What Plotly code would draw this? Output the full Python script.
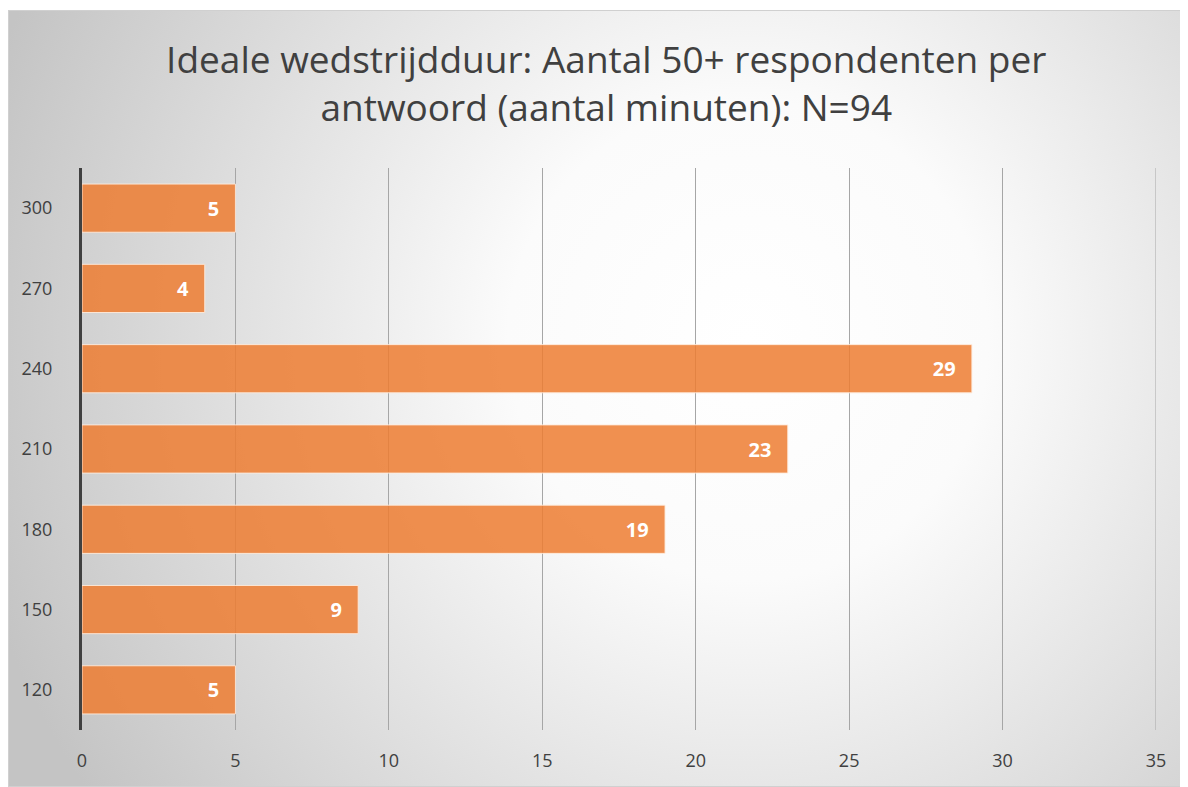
import base64
import plotly.graph_objects as go

# --- Daten ---
minuten = ["120", "150", "180", "210", "240", "270", "300"]
aantal = [5, 9, 19, 23, 29, 4, 5]
x_ticks = [0, 5, 10, 15, 20, 25, 30, 35]

TITLE = "Ideale wedstrijdduur: Aantal 50+ respondenten per<br>antwoord (aantal minuten): N=94"
FONT = "'Open Sans', Lato, sans-serif"

# Seite hat 8px Rand, daher Figur etwas kleiner
W, H = 1180, 779
ML, MR, MT, MB = 74, 32, 160, 57
PW, PH = W - ML - MR, H - MT - MB

# Hintergrund: radialer Verlauf wie in Excel, als SVG-Bild
BOX = (0, 2, 1180, 777)  # x, y, breite, höhe in Pixel
svg = f"""<svg xmlns='http://www.w3.org/2000/svg' width='{BOX[2]}' height='{BOX[3]}' viewBox='0 0 {BOX[2]} {BOX[3]}' preserveAspectRatio='none'>
<defs><radialGradient id='g' gradientUnits='userSpaceOnUse' cx='740' cy='330' r='800'>
<stop offset='0' stop-color='#ffffff'/><stop offset='0.3' stop-color='#fbfbfb'/>
<stop offset='1' stop-color='#c4c4c4'/></radialGradient></defs>
<rect x='0' y='0' width='{BOX[2]}' height='{BOX[3]}' fill='url(#g)' stroke='#d0d0d0' stroke-width='2'/>
</svg>"""
svg_uri = "data:image/svg+xml;base64," + base64.b64encode(svg.encode()).decode()

fig = go.Figure()
fig.add_trace(go.Bar(
    y=minuten, x=aantal, orientation="h",
    marker=dict(color="rgba(237,125,49,0.85)",
                line=dict(color="rgba(255,235,220,0.9)", width=1)),
    text=[f"{v}\u2002\u2009" for v in aantal],
    textposition="inside", insidetextanchor="end",
    textfont=dict(family=FONT, size=20, color="white", weight="bold"),
    constraintext="none",
    hoverinfo="skip",
))

fig.add_layout_image(dict(
    source=svg_uri, xref="paper", yref="paper",
    x=(BOX[0] - ML) / PW, y=(H - MB - BOX[1]) / PH,
    sizex=BOX[2] / PW, sizey=BOX[3] / PH,
    xanchor="left", yanchor="top", sizing="stretch", layer="below",
))

# letzte Gitterlinie am rechten Rand (plotly lässt sie weg)
fig.add_shape(type="line", xref="x", yref="paper",
              x0=x_ticks[-1], x1=x_ticks[-1], y0=0, y1=1,
              line=dict(color="#a6a6a6", width=1), layer="below")

fig.update_layout(
    width=W, height=H,
    margin=dict(l=ML, r=MR, t=MT, b=MB),
    paper_bgcolor="white", plot_bgcolor="rgba(0,0,0,0)",
    bargap=0.4, showlegend=False,
    font=dict(family=FONT, color="#404040"),
    title=dict(text=TITLE, x=0.507, xref="container", xanchor="center",
               y=0.917, yref="container", yanchor="top",
               font=dict(family=FONT, size=37, color="#404040")),
)
fig.update_xaxes(
    range=[0, 35], tickvals=x_ticks, showgrid=True, gridcolor="#a6a6a6",
    gridwidth=1, zeroline=False, showline=False,
    tickfont=dict(size=18, color="#404040"), ticklabelstandoff=18,
)
fig.update_yaxes(
    type="category", categoryorder="array", categoryarray=minuten,
    showgrid=False, showline=True, linecolor="#404040", linewidth=3,
    tickfont=dict(size=18, color="#404040"), ticklabelstandoff=23,
)

fig.write_html("out.html")
